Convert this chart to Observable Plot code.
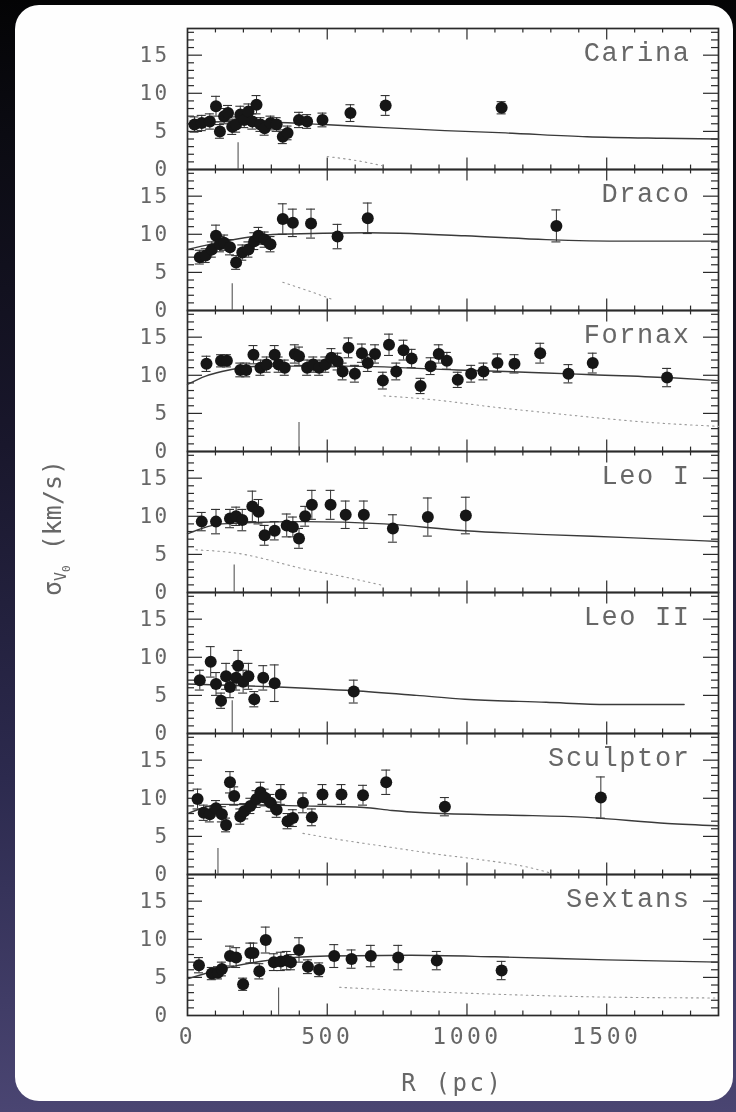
<!DOCTYPE html>
<html><head><meta charset="utf-8">
<script src="https://cdn.jsdelivr.net/npm/d3@7"></script>
<script src="https://cdn.jsdelivr.net/npm/@observablehq/plot@0.6"></script>
<style>
html,body{margin:0;padding:0;}
body{width:736px;height:1112px;overflow:hidden;position:relative;
background:linear-gradient(to bottom,#040405 0%,#0b0b12 12%,#19172c 40%,#2c2a4e 70%,#4a4572 100%);}
#card{position:absolute;left:15px;top:5px;width:718px;height:1096px;background:#fefefe;border-radius:24px;}
#chart{position:absolute;left:0;top:0;filter:blur(0.5px);}
#chart g[aria-label="text"] text{letter-spacing:1.6px;}
#chart g[aria-label="y-axis tick label"] text{letter-spacing:2.4px;}
#chart g[aria-label="x-axis tick label"] text{letter-spacing:3.5px;}
</style></head>
<body><div id="card"></div><div id="chart"></div>
<script>
// ---- categories & tick labels ----
const galaxies = ["Carina","Draco","Fornax","Leo I","Leo II","Sculptor","Sextans"];
const xLabels = [0,500,1000,1500];
const xMajor = [500,1000,1500];
const xMinor = [100,200,300,400,600,700,800,900,1100,1200,1300,1400,1600,1700,1800];
const yLabels = [0,5,10,15];
const yMajor = [5,10,15];
const yMinor = [1,2,3,4,6,7,8,9,11,12,13,14,16,17,18];

// ---- binned dispersion points: [R (pc), sigma (km/s), error] ----
const carina = [[25,5.9,1.0],[51,6.1,1.0],[80,6.3,1.0],[102,8.3,1.3],[116,5.0,0.9],[131,7.0,1.0],[145,7.4,1.0],[160,5.6,1.0],[174,5.9,1.0],[189,7.2,1.1],[203,6.5,1.0],[218,7.6,1.0],[232,6.3,1.0],[247,8.5,1.2],[261,5.9,0.9],[276,5.4,0.9],[297,6.1,0.9],[319,5.9,0.9],[341,4.3,0.9],[358,4.8,0.9],[399,6.5,1.0],[428,6.3,0.9],[483,6.5,0.9],[583,7.4,1.1],[709,8.4,1.3],[1124,8.1,0.8]];
const draco = [[44,7.0,0.9],[65,7.2,0.9],[87,8.0,1.0],[102,9.8,1.4],[116,8.7,1.0],[131,8.9,1.0],[152,8.3,1.0],[174,6.3,0.9],[196,7.6,1.0],[218,8.0,1.0],[239,9.1,1.1],[254,9.8,1.1],[276,9.3,1.0],[297,8.7,1.0],[341,12.0,2.0],[377,11.5,1.8],[442,11.4,1.9],[537,9.7,1.6],[645,12.1,2.0],[1320,11.1,2.1]];
const fornax = [[68,11.5,1.0],[120,11.9,0.8],[141,11.9,0.8],[189,10.7,0.9],[210,10.7,0.9],[236,12.7,1.2],[261,11.0,1.0],[283,11.4,1.0],[312,12.7,1.2],[326,11.4,1.0],[348,11.0,1.0],[384,12.8,1.2],[399,12.5,1.2],[428,11.0,1.0],[450,11.4,1.0],[471,11.0,1.0],[493,11.4,1.0],[515,12.3,1.2],[537,11.8,1.1],[555,10.5,1.1],[576,13.6,1.3],[599,10.2,1.1],[624,12.9,1.2],[645,11.6,1.1],[671,12.8,1.2],[699,9.3,1.1],[721,14.0,1.4],[747,10.5,1.1],[773,13.3,1.3],[802,12.2,1.2],[834,8.6,1.0],[870,11.2,1.1],[899,12.8,1.2],[928,11.9,1.1],[967,9.4,1.0],[1015,10.2,1.1],[1059,10.5,1.1],[1109,11.6,1.2],[1170,11.5,1.2],[1262,12.9,1.3],[1363,10.2,1.2],[1450,11.6,1.3],[1716,9.7,1.2]];
const leoI = [[51,9.3,1.2],[102,9.3,1.6],[152,9.7,1.2],[174,10.0,1.2],[196,9.5,1.4],[232,11.3,2.0],[254,10.6,1.6],[276,7.5,1.3],[312,8.1,1.2],[355,8.8,1.5],[377,8.6,1.3],[399,7.1,1.3],[421,10.0,1.3],[445,11.5,1.9],[512,11.5,1.9],[566,10.2,1.8],[631,10.2,1.8],[735,8.4,1.8],[860,9.9,2.5],[996,10.1,2.4]];
const leoII = [[44,7.0,1.3],[83,9.4,2.0],[102,6.5,1.5],[120,4.3,1.0],[138,7.5,1.7],[152,6.1,1.4],[174,7.3,1.6],[181,8.9,2.0],[199,6.8,1.5],[218,7.5,1.7],[239,4.5,1.0],[271,7.3,1.6],[312,6.6,2.4],[595,5.5,1.5]];
const sculptor = [[36,9.9,1.3],[58,8.1,1.0],[80,7.9,1.0],[102,8.7,1.0],[123,7.9,1.0],[138,6.5,0.9],[152,12.1,1.4],[167,10.3,1.2],[189,7.6,1.0],[203,8.3,1.0],[225,9.0,1.0],[247,9.9,1.1],[261,10.8,1.3],[276,10.1,1.1],[297,9.4,1.1],[319,8.5,1.0],[334,10.5,1.3],[358,7.0,1.0],[377,7.4,1.1],[413,9.4,1.3],[445,7.5,1.1],[483,10.5,1.3],[551,10.5,1.3],[628,10.4,1.3],[711,12.1,1.6],[921,8.9,1.2],[1479,10.1,2.7]];
const sextans = [[41,6.6,1.0],[87,5.5,0.8],[109,5.6,0.8],[123,6.1,0.9],[152,7.8,1.3],[174,7.6,1.3],[199,4.1,0.8],[225,8.2,1.3],[236,8.2,1.3],[257,5.8,1.0],[280,9.9,1.7],[309,7.0,1.1],[334,7.1,1.2],[355,7.2,1.2],[370,7.0,1.0],[399,8.6,1.6],[431,6.4,0.9],[471,6.0,0.9],[525,7.8,1.5],[587,7.4,1.2],[656,7.8,1.4],[754,7.6,1.6],[892,7.2,1.2],[1124,5.9,1.2]];

// ---- model curves (solid): [R, sigma] ----
const carinaFit = [[0,6.0],[150,6.3],[300,6.2],[486,5.9],[703,5.5],[921,5.1],[1138,4.8],[1429,4.3],[1700,4.1],[1900,4.0]];
const dracoFit = [[0,8.0],[150,9.2],[326,10.0],[645,10.2],[993,9.8],[1283,9.3],[1574,9.1],[1900,9.1]];
const fornaxFit = [[0,8.8],[65,9.9],[123,10.5],[268,11.2],[560,11.2],[964,10.7],[1138,10.5],[1283,10.3],[1429,10.1],[1718,9.7],[1900,9.3]];
const leoIFit = [[0,7.7],[123,9.0],[413,9.3],[703,9.0],[993,8.1],[1283,7.6],[1574,7.2],[1900,6.7]];
const leoIIFit = [[0,6.5],[326,6.1],[595,5.6],[819,5.0],[993,4.5],[1283,4.1],[1501,3.8],[1777,3.8]];
const sculptorFit = [[0,8.0],[123,9.2],[413,9.0],[631,8.8],[732,8.4],[848,8.1],[1138,7.8],[1429,7.5],[1718,6.7],[1900,6.4]];
const sextansFit = [[0,4.8],[123,6.1],[300,7.3],[500,7.8],[800,7.9],[1100,7.7],[1500,7.3],[1900,7.0]];

// ---- dotted curves: [R, sigma] ----
const carinaDot = [[500,1.7],[616,1.1],[709,0.4]];
const dracoDot = [[341,3.7],[399,3.0],[515,1.5]];
const fornaxDot = [[703,7.3],[877,6.8],[1102,5.8],[1283,5.1],[1660,3.8],[1900,3.3]];
const leoIDot = [[30,5.6],[167,5.2],[442,2.9],[500,2.5],[703,0.9]];
const sculptorDot = [[413,5.4],[522,4.7],[703,3.7],[906,2.6],[1037,2.0],[1225,0.9],[1298,0.2]];
const sextansDot = [[544,3.7],[950,3.0],[1530,2.4],[1900,2.3]];

// ---- vertical marker segments ----
const markerR = [181,160,399,167,160,109,326];
const markerH = [3.5,3.5,3.8,3.6,4.3,3.4,3.6];

// ---- build tables ----
const pointSets = [["Carina",carina],["Draco",draco],["Fornax",fornax],["Leo I",leoI],["Leo II",leoII],["Sculptor",sculptor],["Sextans",sextans]];
const fitSets = [["Carina",carinaFit],["Draco",dracoFit],["Fornax",fornaxFit],["Leo I",leoIFit],["Leo II",leoIIFit],["Sculptor",sculptorFit],["Sextans",sextansFit]];
const dotSets = [["Carina",carinaDot],["Draco",dracoDot],["Fornax",fornaxDot],["Leo I",leoIDot],["Sculptor",sculptorDot],["Sextans",sextansDot]];
const pts = pointSets.flatMap(([g,a]) => a.map(([R,s,e]) => ({g,R,s,e})));
const fits = fitSets.flatMap(([g,a]) => a.map(([R,s]) => ({g,R,s})));
const dots = dotSets.flatMap(([g,a]) => a.map(([R,s]) => ({g,R,s})));
const markers = galaxies.map((g,i) => ({g, R:markerR[i], h:markerH[i]}));

// ---- layout ----
const W=736, H=1112, mL=187, mR=18, mT=26, mB=95;
const fh = (H-mT-mB)/galaxies.length, fw = W-mL-mR;
const ink="#161616", frameInk="#2a2a2a", grey="#676767";

const plot = Plot.plot({
  width:W, height:H, marginLeft:mL, marginRight:mR, marginTop:mT, marginBottom:mB,
  style:{background:"transparent", fontFamily:"DejaVu Sans Mono", overflow:"visible"},
  x:{domain:[0,1900]},
  y:{domain:[0,18.5]},
  fy:{domain:galaxies, padding:0, axis:null},
  marks:[
    Plot.ruleX(xMinor,{x:d=>d, insetTop:fh-5, stroke:frameInk, strokeWidth:1.2}),
    Plot.ruleX(xMinor,{x:d=>d, insetBottom:fh-5, stroke:frameInk, strokeWidth:1.2}),
    Plot.ruleX(xMajor,{x:d=>d, insetTop:fh-12, stroke:frameInk, strokeWidth:1.2}),
    Plot.ruleX(xMajor,{x:d=>d, insetBottom:fh-12, stroke:frameInk, strokeWidth:1.2}),
    Plot.ruleY(yMinor,{y:d=>d, insetRight:fw-7, stroke:frameInk, strokeWidth:1.2}),
    Plot.ruleY(yMinor,{y:d=>d, insetLeft:fw-7, stroke:frameInk, strokeWidth:1.2}),
    Plot.ruleY(yMajor,{y:d=>d, insetRight:fw-15, stroke:frameInk, strokeWidth:1.2}),
    Plot.ruleY(yMajor,{y:d=>d, insetLeft:fw-15, stroke:frameInk, strokeWidth:1.2}),
    Plot.frame({stroke:frameInk, strokeWidth:1.7}),
    Plot.ruleX(markers,{x:"R", y:"h", fy:"g", stroke:"#555", strokeWidth:1.1}),
    Plot.line(dots,{x:"R", y:"s", z:"g", fy:"g", stroke:"#999", strokeWidth:1.1, strokeDasharray:"1.5,4", curve:"monotone-x"}),
    Plot.line(fits,{x:"R", y:"s", z:"g", fy:"g", stroke:"#3a3a3a", strokeWidth:1.4, curve:"monotone-x"}),
    Plot.ruleX(pts,{x:"R", y1:d=>d.s-d.e, y2:d=>d.s+d.e, fy:"g", stroke:"#333", strokeWidth:1}),
    Plot.ruleY(pts,{y:d=>d.s+d.e, x1:"R", x2:"R", insetLeft:-4.5, insetRight:-4.5, fy:"g", stroke:"#333", strokeWidth:1.1}),
    Plot.ruleY(pts,{y:d=>d.s-d.e, x1:"R", x2:"R", insetLeft:-4.5, insetRight:-4.5, fy:"g", stroke:"#333", strokeWidth:1.1}),
    Plot.dot(pts,{x:"R", y:"s", fy:"g", r:6, fill:ink}),
    Plot.text(galaxies,{fy:d=>d, text:d=>d, frameAnchor:"top-right", textAnchor:"end", lineAnchor:"middle", dx:-28, dy:24, fontSize:27, fontFamily:"Liberation Mono", fill:grey}),
    Plot.axisY({ticks:yLabels, tickSize:0, tickPadding:18, fontSize:21, fill:grey, label:null}),
    Plot.axisX({ticks:xLabels, tickFormat:d=>String(d), tickSize:0, tickPadding:12, fontSize:23, fill:grey, label:null})
  ]
});
document.getElementById("chart").append(plot);

// axis titles
const svg = d3.select(plot);
svg.append("text")
  .attr("x", mL + fw/2).attr("y", 1091)
  .attr("text-anchor","middle")
  .attr("fill", grey).attr("font-size", 24).attr("font-family","DejaVu Sans Mono")
  .style("letter-spacing","2.6px")
  .text("R (pc)");
const yl = svg.append("text")
  .attr("transform","translate(61,596) rotate(-90)")
  .attr("text-anchor","start")
  .attr("fill", grey).attr("font-size", 25).attr("font-family","DejaVu Sans Mono");
yl.append("tspan").text("σ");
yl.append("tspan").attr("font-size",15).attr("dy",5).text("V");
yl.append("tspan").attr("font-size",11).attr("dy",4).text("0");
yl.append("tspan").attr("font-size",25).attr("dy",-9).text(" (km/s)");
</script>
</body></html>
